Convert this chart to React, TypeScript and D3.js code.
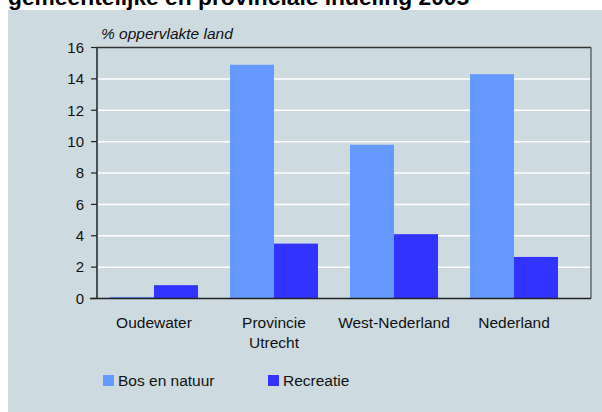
// @ts-nocheck
import * as d3 from "d3";

// data
const categories = ["Oudewater", "Provincie\nUtrecht", "West-Nederland", "Nederland"];
const bosEnNatuur = [0.1, 14.9, 9.8, 14.3];
const recreatie = [0.85, 3.5, 4.1, 2.65];
const seriesNames = ["Bos en natuur", "Recreatie"];
const seriesColors = ["#6699ff", "#3333ff"];
const yTicks = [0, 2, 4, 6, 8, 10, 12, 14, 16];

const W = 602;
const H = 412;
const plot = { left: 97, right: 591, top: 47.5, bottom: 298.5 };
const font = "'Liberation Sans', Arial, Helvetica, sans-serif";
const bg = "#cddbe1";

const App = () => {
    const yScale = d3.scaleLinear().domain([0, 16]).range([plot.bottom, plot.top]);
    const xScale = d3
        .scaleBand()
        .domain(categories)
        .range([94, 574])
        .paddingInner(0.2667)
        .paddingOuter(0.1333);
    const inner = d3
        .scaleBand()
        .domain(seriesNames)
        .range([0, xScale.bandwidth()]);

    const series = [bosEnNatuur, recreatie];

    return (
        <svg
            width={W}
            height={H}
            style={{ position: "absolute", left: 0, top: 0, fontFamily: font }}
        >
            <rect x={0} y={0} width={W} height={H} fill="#ffffff" />
            <rect x={8} y={10} width={W - 8} height={H - 10} fill={bg} />
            {/* title is cut off at the top edge, as in the reference */}
            <text x={8} y={5} fontSize={22.8} fontWeight="bold" fill="#000">
                gemeentelijke en provinciale indeling 2005
            </text>
            <text x={101} y={39} fontSize={15.5} fontStyle="italic" fill="#111">
                % oppervlakte land
            </text>

            {/* gridlines */}
            {yTicks
                .filter((t) => t > 0 && t < 16)
                .map((t) => (
                    <line
                        key={`grid-${t}`}
                        x1={plot.left}
                        x2={plot.right}
                        y1={yScale(t)}
                        y2={yScale(t)}
                        stroke="#ffffff"
                        strokeWidth={1.5}
                    />
                ))}

            {/* bars */}
            {series.map((vals, s) =>
                vals.map((v, i) => (
                    <rect
                        key={`bar-${s}-${i}`}
                        x={xScale(categories[i]) + inner(seriesNames[s])}
                        y={yScale(v)}
                        width={inner.bandwidth()}
                        height={yScale(0) - yScale(v)}
                        fill={seriesColors[s]}
                    />
                ))
            )}

            {/* frame */}
            <line x1={plot.left} x2={plot.right} y1={plot.top} y2={plot.top} stroke="#333" strokeWidth={1.3} />
            <line x1={plot.right} x2={plot.right} y1={plot.top} y2={plot.bottom} stroke="#555" strokeWidth={1.3} />
            <line x1={plot.left} x2={plot.left} y1={plot.top} y2={plot.bottom} stroke="#222" strokeWidth={1.5} />
            <line x1={90} x2={plot.right} y1={plot.bottom} y2={plot.bottom} stroke="#222" strokeWidth={1.5} />

            {/* y axis ticks */}
            {yTicks.map((t) => (
                <g key={`tick-${t}`}>
                    <line x1={91} x2={plot.left} y1={yScale(t)} y2={yScale(t)} stroke="#222" strokeWidth={1.2} />
                    <text
                        x={84}
                        y={yScale(t)}
                        dy="0.35em"
                        textAnchor="end"
                        fontSize={15}
                        fill="#111"
                    >
                        {t}
                    </text>
                </g>
            ))}

            {/* category labels */}
            {categories.map((c) => (
                <text
                    key={`cat-${c}`}
                    x={xScale(c) + xScale.bandwidth() / 2}
                    y={328}
                    textAnchor="middle"
                    fontSize={15.5}
                    fill="#111"
                >
                    {c.split("\n").map((line, j) => (
                        <tspan key={j} x={xScale(c) + xScale.bandwidth() / 2} dy={j === 0 ? 0 : 20}>
                            {line}
                        </tspan>
                    ))}
                </text>
            ))}

            {/* legend */}
            {seriesNames.map((n, s) => {
                const lx = s === 0 ? 103 : 268;
                return (
                    <g key={`leg-${n}`}>
                        <rect x={lx} y={375} width={11} height={11} fill={seriesColors[s]} />
                        <text x={lx + 15} y={386} fontSize={15.5} fill="#111">
                            {n}
                        </text>
                    </g>
                );
            })}
        </svg>
    );
};

export default App;
